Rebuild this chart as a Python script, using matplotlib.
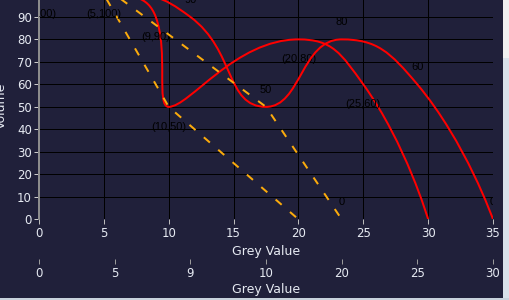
import matplotlib
matplotlib.use('Agg')
import matplotlib.pyplot as plt
from matplotlib.path import Path
from matplotlib.patches import PathPatch, Rectangle
from matplotlib.transforms import ScaledTranslation
import numpy as np

# data
pts_x = [0, 5, 9, 10, 20, 25, 30]
pts_y = [100, 100, 90, 50, 80, 60, 0]
categories = ['0', '5', '9', '10', '20', '25', '30']
cat_values = [100, 100, 90, 50, 80, 60, 0]
dash_x = [5, 10, 20]
dash_y = [100, 50, 0]
dash_cat_idx = [1, 3, 4]          # '5', '10', '20' on the category axis

W, H, DPI = 509, 300, 100
PX = 72.0 / DPI                   # points per pixel
BG = '#20203a'
TXT = '#e6eaf2'

X0, X1 = 39, 493                  # plot area in pixels
Y0 = 219.3                        # pixel row of y = 0
SY = 2.2489                       # pixels per y unit
YTOP = Y0 / SY                    # value at the top edge of the image


def echarts_smooth(xs, ys, sx, sy, smooth=0.5):
    # bezier smoothing like echarts 5 (with clamping), computed in pixel space
    P = [(x * sx, y * sy) for x, y in zip(xs, ys)]
    verts = [P[0]]
    codes = [Path.MOVETO]
    cp0 = P[0]
    n = len(P)
    for i in range(1, n):
        x, y = P[i]
        px, py = P[i - 1]
        if i == n - 1:
            cp1 = (x, y)
            ncp = None
        else:
            nx, ny = P[i + 1]
            vx, vy = nx - px, ny - py
            lp = np.hypot(x - px, y - py)
            ln = np.hypot(nx - x, ny - y)
            r = ln / (ln + lp)
            ncx = x + vx * smooth * r
            ncy = y + vy * smooth * r
            ncx = max(min(ncx, max(nx, x)), min(nx, x))
            ncy = max(min(ncy, max(ny, y)), min(ny, y))
            vx, vy = ncx - x, ncy - y
            c1x = x - vx * lp / ln
            c1y = y - vy * lp / ln
            c1x = max(min(c1x, max(px, x)), min(px, x))
            c1y = max(min(c1y, max(py, y)), min(py, y))
            vx, vy = x - c1x, y - c1y
            ncp = (x + vx * ln / lp, y + vy * ln / lp)
            cp1 = (c1x, c1y)
        verts += [cp0, cp1, (x, y)]
        codes += [Path.CURVE4] * 3
        cp0 = ncp
    verts = [(vx_ / sx, vy_ / sy) for vx_, vy_ in verts]
    return Path(verts, codes)


fig = plt.figure(figsize=(W / DPI, H / DPI), dpi=DPI, facecolor=BG)
ax = fig.add_axes([X0 / W, 1 - Y0 / H, (X1 - X0) / W, Y0 / H])
ax.set_facecolor(BG)
ax.set_xlim(0, 35)
ax.set_ylim(0, YTOP)
ax.set_xticks(range(0, 36, 5))
ax.set_yticks(range(0, 91, 10))
ax.grid(True, color='black', lw=1 * PX)
ax.set_axisbelow(True)
for s in ['top', 'right', 'bottom']:
    ax.spines[s].set_visible(False)
ax.spines['left'].set_color('#8c8c8c')
ax.spines['left'].set_linewidth(2 * PX)
ax.spines['left'].set_zorder(3)
ax.tick_params(axis='x', colors='#bbbbbb', length=5 * PX, width=1 * PX,
               pad=3 * PX, labelcolor=TXT, labelsize=8.5)
ax.tick_params(axis='y', colors='#cccccc', length=5 * PX, width=1 * PX,
               pad=2 * PX, labelcolor=TXT, labelsize=8.5)

# category axis, 40px below the value axis
axc = ax.twiny()
axc.set_xlim(0, len(categories) - 1)
axc.set_xticks(range(len(categories)))
axc.set_xticklabels(categories)
axc.xaxis.set_ticks_position('bottom')
for s in axc.spines.values():
    s.set_color('none')
axc.spines['bottom'].set_position(('outward', 40 * PX))
axc.tick_params(axis='x', colors='#9a9a9a', length=5 * PX, width=1 * PX,
                pad=3 * PX, labelcolor=TXT, labelsize=8.5)

sx = (X1 - X0) / 35.0
sc = (X1 - X0) / 6.0
lw = 2 * PX

# red smooth line on the value axis
ax.add_patch(PathPatch(echarts_smooth(pts_x, pts_y, sx, SY), fc='none',
                       ec='#ff0000', lw=lw, zorder=2))
# red smooth line on the category axis
cat_idx = list(range(len(categories)))
axc.add_patch(PathPatch(echarts_smooth(cat_idx, cat_values, sc, SY), fc='none',
                        ec='#ff0000', lw=lw, zorder=2))
# orange dashed lines
ax.plot(dash_x, dash_y, color='#fbab0c', lw=lw, dashes=(4, 5.5), zorder=3)
axc.plot(dash_cat_idx, dash_y, color='#fbab0c', lw=lw, dashes=(4, 5.5), zorder=3)


def label(a, x, y, s, dy_px):
    # skip labels that end up wholly outside the plot area
    yc = y * SY + dy_px
    if yc < -6 or yc > Y0 + 6:
        return
    tr = a.transData + ScaledTranslation(0, dy_px / DPI, fig.dpi_scale_trans)
    t = a.text(x, y, s, transform=tr, ha='center', va='center', fontsize=8,
               family='Liberation Sans', color='black', zorder=5)
    t.set_clip_on(True)
    t.set_clip_box(ax.bbox)


for x, y in zip(pts_x, pts_y):
    label(ax, x, y, '(%d,%d)' % (x, y), -20)
for i, y in zip(cat_idx, cat_values):
    label(axc, i, y, '%d' % y, 17)
for i, y in zip(dash_cat_idx, dash_y):
    if cat_values[i] != y:
        label(axc, i, y, '%d' % y, 17)

# axis names
fig.text((X0 + X1) / 2 / W, 1 - 251.7 / H, 'Grey Value', ha='center', va='center',
         color=TXT, fontsize=9)
fig.text((X0 + X1) / 2 / W, 1 - 290 / H, 'Grey Value', ha='center', va='center',
         color=TXT, fontsize=9)
fig.text(1.5 / W, 1 - 105.7 / H, 'Volume', rotation=90, ha='center', va='center',
         color=TXT, fontsize=9)

# browser edge on the right and bottom
fig.patches.append(Rectangle((503 / W, 0), 6 / W, 1, transform=fig.transFigure,
                             fc='#d9e1ea', ec='none'))
fig.patches.append(Rectangle((503 / W, 1 - 58 / H), 6 / W, 58 / H,
                             transform=fig.transFigure, fc='#f0f0f0', ec='none'))
fig.patches.append(Rectangle((0, 0), 1, 2 / H, transform=fig.transFigure,
                             fc='#c8d2dc', ec='none'))

fig.savefig('out.png', dpi=DPI, facecolor=BG)
